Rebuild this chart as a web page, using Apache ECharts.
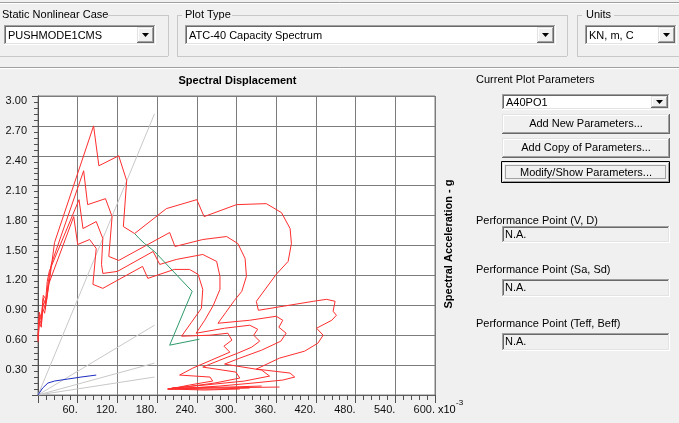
<!DOCTYPE html>
<html>
<head>
<meta charset="utf-8">
<script src="https://cdn.jsdelivr.net/npm/echarts@6/dist/echarts.min.js"></script>
<style>
  html, body { margin: 0; padding: 0; background: #f0f0f0; }
  #chart { width: 679px; height: 423px; }
</style>
</head>
<body>
<div id="chart"></div>
<script>
// Sd in units of 1e-3 m, Sa in g

// Demand spectra (ADRS), outermost to innermost
const demandCurve1 = [[0,0.53],[2,0.73],[5,0.68],[7,0.87],[10,0.82],[14,1.00],[17,1.13],[20,1.28],[25,1.53],[84,2.70],[92,2.30],[122,2.40],[134,2.15],[129,1.69],[146,1.62],[194,1.87],[240,1.96],[251,1.79],[300,1.91],[345,1.92],[368,1.83],[381,1.67],[383,1.52],[378,1.34],[360,1.21],[330,0.94],[333,0.85],[416,0.94],[436,0.96],[449,0.94],[446,0.84],[451,0.80],[444,0.75],[421,0.67],[431,0.60],[423,0.52],[403,0.44],[365,0.37],[330,0.26],[381,0.22],[388,0.18],[370,0.15],[325,0.12],[275,0.09],[229,0.07],[196,0.06],[260,0.07],[365,0.08]];
const demandCurve2 = [[0,0.55],[2,0.77],[5,0.71],[8,0.92],[11,0.86],[15,1.11],[20,1.31],[69,2.25],[75,1.91],[102,1.97],[112,1.79],[107,1.39],[122,1.35],[199,1.63],[207,1.49],[249,1.56],[285,1.59],[302,1.52],[313,1.37],[315,1.19],[308,1.04],[297,0.95],[284,0.83],[272,0.72],[320,0.75],[360,0.79],[370,0.75],[364,0.68],[375,0.62],[367,0.54],[338,0.45],[305,0.37],[282,0.31],[338,0.25],[350,0.19],[312,0.14],[252,0.10],[202,0.07],[290,0.08],[338,0.09]];
const demandCurve3 = [[0,0.57],[2,0.80],[5,0.75],[8,0.97],[11,0.91],[14,1.14],[17,1.24],[62,1.96],[68,1.67],[88,1.74],[98,1.57],[96,1.31],[98,1.22],[120,1.24],[174,1.44],[184,1.31],[209,1.36],[249,1.41],[270,1.34],[275,1.19],[275,1.06],[265,0.90],[252,0.75],[239,0.62],[282,0.67],[320,0.70],[332,0.66],[326,0.60],[335,0.54],[323,0.48],[302,0.42],[275,0.35],[249,0.28],[299,0.23],[305,0.17],[267,0.12],[222,0.08],[196,0.06],[267,0.06],[320,0.07]];
const demandCurve4 = [[0,0.59],[2,0.83],[5,0.77],[8,1.00],[13,0.95],[16,1.11],[54,1.79],[60,1.51],[78,1.56],[88,1.47],[83,1.11],[98,1.07],[158,1.29],[166,1.17],[206,1.26],[229,1.26],[242,1.21],[249,1.06],[247,0.87],[232,0.73],[217,0.59],[260,0.60],[287,0.62],[293,0.55],[281,0.49],[290,0.43],[262,0.35],[234,0.27],[214,0.20],[260,0.18],[264,0.14],[229,0.10],[199,0.06],[252,0.05],[305,0.06]];

// Single demand spectrum (variable damping)
const singleDemand = [[146,1.62],[153,1.57],[161,1.52],[176,1.44],[233,1.04],[199,0.50],[244,0.56]];

// Capacity spectrum
const capacityCurve = [[0,0],[2,0.02],[7,0.07],[15,0.12],[25,0.14],[45,0.16],[65,0.18],[88,0.20]];

// Constant-period radial lines (T = 0.5, 1.0, 1.5, 2.0 s), drawn from the origin
const periodLineEnds = [[176,2.82],[176,0.70],[176,0.32],[176,0.18]];

// Axis tick labels
const xTickLabels = ['', '60.', '120.', '180.', '240.', '300.', '360.', '420.', '480.', '540.', '600.'];
const yTickLabels = ['', '0.30', '0.60', '0.90', '1.20', '1.50', '1.80', '2.10', '2.40', '2.70', '3.00'];

const FONT_FAMILY = '"Liberation Sans", Arial, sans-serif';
const UI_FONT = '11px ' + FONT_FAMILY;

// ---- small drawing helpers for the surrounding form controls ----
function hl(x1, x2, y, c) {
  return { type: 'line', silent: true, shape: { x1: x1, y1: y + 0.5, x2: x2, y2: y + 0.5 }, style: { stroke: c, lineWidth: 1 } };
}
function vl(x, y1, y2, c) {
  return { type: 'line', silent: true, shape: { x1: x + 0.5, y1: y1, x2: x + 0.5, y2: y2 }, style: { stroke: c, lineWidth: 1 } };
}
function box(x, y, w, h, fill) {
  return { type: 'rect', silent: true, shape: { x: x, y: y, width: w, height: h }, style: { fill: fill } };
}
function label(x, y, s, opts) {
  opts = opts || {};
  return {
    type: 'text', silent: true, x: x, y: y, rotation: opts.rotation || 0,
    style: {
      text: s, font: opts.font || UI_FONT, fill: opts.fill || '#000',
      textAlign: opts.align || 'left', align: opts.align || 'left',
      textVerticalAlign: 'middle', verticalAlign: 'middle'
    }
  };
}
function sunken(x, y, w, h, fill) {
  return [
    box(x, y, w, h, fill),
    hl(x, x + w, y, '#a0a0a0'), vl(x, y, y + h, '#a0a0a0'),
    hl(x + 1, x + w - 1, y + 1, '#696969'), vl(x + 1, y + 1, y + h - 1, '#696969'),
    hl(x, x + w, y + h - 1, '#ffffff'), vl(x + w - 1, y, y + h, '#ffffff'),
    hl(x + 1, x + w - 2, y + h - 2, '#e3e3e3'), vl(x + w - 2, y + 1, y + h - 1, '#e3e3e3')
  ];
}
function raised(x, y, w, h, fill) {
  return [
    box(x, y, w, h, fill || '#f0f0f0'),
    hl(x, x + w, y, '#e3e3e3'), vl(x, y, y + h, '#e3e3e3'),
    hl(x + 1, x + w - 1, y + 1, '#ffffff'), vl(x + 1, y + 1, y + h - 1, '#ffffff'),
    hl(x, x + w, y + h - 1, '#696969'), vl(x + w - 1, y, y + h, '#696969'),
    hl(x + 1, x + w - 1, y + h - 2, '#a0a0a0'), vl(x + w - 2, y + 1, y + h - 1, '#a0a0a0')
  ];
}
function arrowDown(cx, cy) {
  return { type: 'polygon', silent: true, shape: { points: [[cx - 3.5, cy - 2], [cx + 3.5, cy - 2], [cx, cy + 2]] }, style: { fill: '#000' } };
}
function combo(x, y, w, h, text) {
  const els = sunken(x, y, w, h, '#ffffff');
  const bw = 17;
  els.push(...raised(x + w - bw - 2, y + 2, bw, h - 4, '#f0f0f0'));
  els.push(arrowDown(x + w - bw / 2 - 2, y + h / 2));
  els.push(label(x + 4, y + h / 2 + 0.5, text));
  return els;
}
function groupBox(left, right, top, bottom, labelStart, labelEnd) {
  const c = '#c8c8c8';
  const els = [];
  if (left >= 0) {
    els.push(vl(left, top, bottom, c));
    els.push(hl(left, labelStart - 2, top, c));
  }
  els.push(hl(labelEnd + 2, right, top, c));
  els.push(vl(right, top, bottom, c));
  els.push(hl(Math.max(left, 0), right, bottom, c));
  return els;
}
function button(x, y, w, h, text, isDefault) {
  const els = raised(x, y, w, h, '#f0f0f0');
  if (isDefault) {
    els.push({ type: 'rect', silent: true, shape: { x: x - 0.5, y: y - 0.5, width: w, height: h }, style: { fill: null, stroke: '#000', lineWidth: 1 } });
    els.push({ type: 'rect', silent: true, shape: { x: x + 3.5, y: y + 3.5, width: w - 8, height: h - 8 }, style: { fill: null, stroke: '#555', lineWidth: 1, lineDash: [1, 1] } });
  }
  els.push(label(x + w / 2, y + h / 2, text, { align: 'center' }));
  return els;
}

const graphics = [];
// window separators
graphics.push(hl(0, 679, 2, '#a0a0a0'), hl(0, 679, 3, '#ffffff'));
graphics.push(hl(0, 679, 67, '#a0a0a0'), hl(0, 679, 68, '#ffffff'));

// top group boxes
graphics.push(...groupBox(-1, 168, 15, 56, 0, 106));
graphics.push(label(2, 15, 'Static Nonlinear Case'));
graphics.push(...combo(4, 25, 152, 20, 'PUSHMODE1CMS'));

graphics.push(...groupBox(177, 567, 15, 56, 184, 230));
graphics.push(label(185, 15, 'Plot Type'));
graphics.push(...combo(185, 25, 371, 20, 'ATC-40 Capacity Spectrum'));

graphics.push(...groupBox(577, 690, 15, 56, 584, 612));
graphics.push(label(586, 15, 'Units'));
graphics.push(...combo(585, 25, 92, 20, 'KN, m, C'));

// right-hand parameter panel
graphics.push(label(476, 80, 'Current Plot Parameters'));
graphics.push(...combo(502, 94, 168, 16, 'A40PO1'));
graphics.push(...button(502, 114, 168, 20, 'Add New Parameters...'));
graphics.push(...button(502, 138, 168, 20, 'Add Copy of Parameters...'));
graphics.push(...button(502, 162, 168, 21, 'Modify/Show Parameters...', true));

graphics.push(label(476, 221, 'Performance Point (V, D)'));
graphics.push(...sunken(502, 226, 168, 17, '#f0f0f0'));
graphics.push(label(505, 234.5, 'N.A.'));
graphics.push(label(476, 270, 'Performance Point (Sa, Sd)'));
graphics.push(...sunken(502, 279, 168, 18, '#f0f0f0'));
graphics.push(label(505, 288, 'N.A.'));
graphics.push(label(476, 324, 'Performance Point (Teff, Beff)'));
graphics.push(...sunken(502, 333, 168, 18, '#f0f0f0'));
graphics.push(label(505, 342, 'N.A.'));

// chart titles
graphics.push(label(237.5, 81, 'Spectral Displacement', { align: 'center', font: 'bold 11px ' + FONT_FAMILY }));
graphics.push(label(449, 244, 'Spectral Acceleration - g', { align: 'center', font: 'bold 11px ' + FONT_FAMILY, rotation: Math.PI / 2 }));
graphics.push(label(438, 409.5, 'x10'));
graphics.push(label(456, 403, '-3', { font: '8px ' + FONT_FAMILY }));

function lineSeries(name, data, color, z) {
  return {
    name: name, type: 'line', data: data, showSymbol: false, symbol: 'none',
    smooth: false, z: z, silent: true,
    lineStyle: { color: color, width: 1 }
  };
}

const series = [];
periodLineEnds.forEach(function (end, i) {
  series.push(lineSeries('period' + i, [[0, 0], end], '#c8c8c8', 2));
});
[demandCurve1, demandCurve2, demandCurve3, demandCurve4].forEach(function (d, i) {
  series.push(lineSeries('demand' + (i + 1), d, '#ff2d2d', 3));
});
series.push(lineSeries('singleDemand', singleDemand, '#2e9a6a', 4));
series.push(lineSeries('capacity', capacityCurve, '#1c2cc0', 5));

const chart = echarts.init(document.getElementById('chart'), null, { renderer: 'canvas' });
chart.setOption({
  animation: false,
  backgroundColor: '#f0f0f0',
  grid: {
    left: 38, right: 244, top: 96, bottom: 28,
    show: true, backgroundColor: '#ffffff', borderColor: '#808080', borderWidth: 1
  },
  xAxis: {
    type: 'value', min: 0, max: 600, interval: 60,
    axisLine: { show: true, onZero: false, lineStyle: { color: '#606060' } },
    axisTick: { show: true, length: 8, lineStyle: { color: '#505050' } },
    minorTick: { show: true, splitNumber: 5, length: 5, lineStyle: { color: '#505050' } },
    splitLine: { show: true, lineStyle: { color: '#7c7c7c', width: 1 } },
    axisLabel: {
      margin: 9, align: 'right', color: '#111', fontSize: 11, fontFamily: FONT_FAMILY,
      showMinLabel: true, showMaxLabel: true,
      formatter: function (v) { return xTickLabels[Math.round(v / 60)] || ''; }
    }
  },
  yAxis: {
    type: 'value', min: 0, max: 3, interval: 0.3,
    axisLine: { show: true, onZero: false, lineStyle: { color: '#505050' } },
    axisTick: { show: true, length: 6, lineStyle: { color: '#505050' } },
    minorTick: { show: true, splitNumber: 5, length: 4, lineStyle: { color: '#505050' } },
    splitLine: { show: true, lineStyle: { color: '#7c7c7c', width: 1 } },
    axisLabel: {
      margin: 11, color: '#111', fontSize: 11, fontFamily: FONT_FAMILY,
      verticalAlign: 'top', lineHeight: 10,
      showMinLabel: true, showMaxLabel: true,
      formatter: function (v) { return yTickLabels[Math.round(v / 0.3)] || ''; }
    }
  },
  series: series,
  graphic: graphics
});
</script>
</body>
</html>
